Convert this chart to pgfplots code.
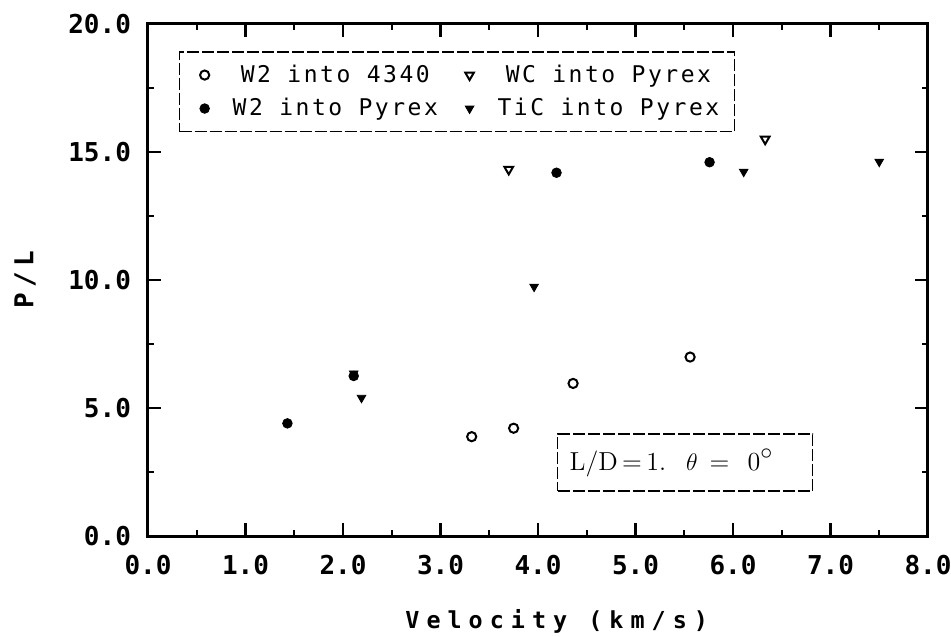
\documentclass[border=0pt]{standalone}
\usepackage{fontspec}
\usepackage{pgfplots}
\pgfplotsset{compat=1.18}
\newfontfamily\tickfont{DejaVu Sans Mono}
\newfontfamily\legfont[LetterSpace=11]{DejaVu Sans Mono}
\newfontfamily\labfont[LetterSpace=30]{DejaVu Sans Mono}
\newfontfamily\ylabfont[LetterSpace=20]{DejaVu Sans Mono}
\begin{document}
\begin{tikzpicture}
\begin{axis}[
  scale only axis, width=390pt, height=256pt,
  xmin=0, xmax=8, ymin=0, ymax=20,
  xtick={0,1,2,3,4,5,6,7,8}, ytick={0,5,10,15,20},
  minor x tick num=1, minor y tick num=1,
  tick align=inside,
  major tick length=6.5pt, minor tick length=3pt,
  axis line style={line width=1.5pt},
  every major tick/.append style={line width=1.3pt, black},
  every minor tick/.append style={line width=1pt, black},
  /pgf/number format/assume math mode=true,
  xticklabel style={/pgf/number format/fixed, /pgf/number format/fixed zerofill, /pgf/number format/precision=1, yshift=-6pt},
  yticklabel style={/pgf/number format/fixed, /pgf/number format/fixed zerofill, /pgf/number format/precision=1, xshift=-5pt},
  tick label style={font=\tickfont\bfseries\fontsize{13}{15}\selectfont},
  xlabel={Velocity (km/s)}, ylabel={P/L},
  xlabel style={font=\labfont\bfseries\fontsize{11.7}{14}\selectfont, at={(axis description cs:0.524,-0.166)}, anchor=center},
  ylabel style={font=\ylabfont\bfseries\fontsize{13}{15}\selectfont, at={(axis description cs:-0.1577,0.5)}, anchor=center},
  legend columns=2,
  legend image code/.code={\draw[#1] plot coordinates {(0pt,0pt)}; \path[draw=none] (-7pt,0pt) (12pt,0pt);},
  legend style={at={(axis description cs:0.0397,0.947)}, anchor=north west, draw=black, line width=0.7pt, dash pattern=on 6pt off 1.5pt,
    font=\legfont\fontsize{11.5}{13.8}\selectfont, inner xsep=5.5pt, inner ysep=4.5pt, row sep=2.5pt,
    /tikz/every even column/.append style={column sep=6.8pt}},
]
\addplot[only marks, mark=o, mark size=2.3pt, line width=1pt, mark options={solid, line width=1pt}]
  coordinates {(3.32,3.88) (3.75,4.21) (4.36,5.96) (5.56,6.99)};
\addlegendentry{W2 into 4340}
\addplot[only marks, mark=triangle, mark size=2.5pt, line width=1pt, mark options={solid, line width=1pt, rotate=180}]
  coordinates {(3.70,14.32) (6.33,15.50)};
\addlegendentry{WC into Pyrex}
\addplot[only marks, mark=*, mark size=2.4pt, line width=0.4pt, mark options={solid, fill=black, line width=0.4pt}]
  coordinates {(1.43,4.40) (2.11,6.25) (4.19,14.19) (5.76,14.60)};
\addlegendentry{W2 into Pyrex}
\addplot[only marks, mark=triangle*, mark size=2.5pt, line width=0.4pt, mark options={solid, fill=black, line width=0.4pt, rotate=180}]
  coordinates {(2.11,6.35) (2.19,5.40) (3.96,9.74) (6.11,14.23) (7.50,14.62)};
\addlegendentry{TiC into Pyrex}
\node[draw=black, line width=0.7pt, dash pattern=on 6pt off 1.5pt, text width=115.5pt, align=left, inner xsep=6pt, minimum height=28.5pt, font=\fontsize{13}{15}\selectfont]
  at (axis cs:5.51,2.87) {L/D\,=\,1.\hspace{10pt}$\theta$\hspace{6pt}=\hspace{9pt}0\raisebox{5.4pt}{$\circ$}};
\end{axis}
\pgfresetboundingbox
\path[use as bounding box] (-74pt,-50pt) rectangle (401.5pt,268pt);
\end{tikzpicture}
\end{document}
